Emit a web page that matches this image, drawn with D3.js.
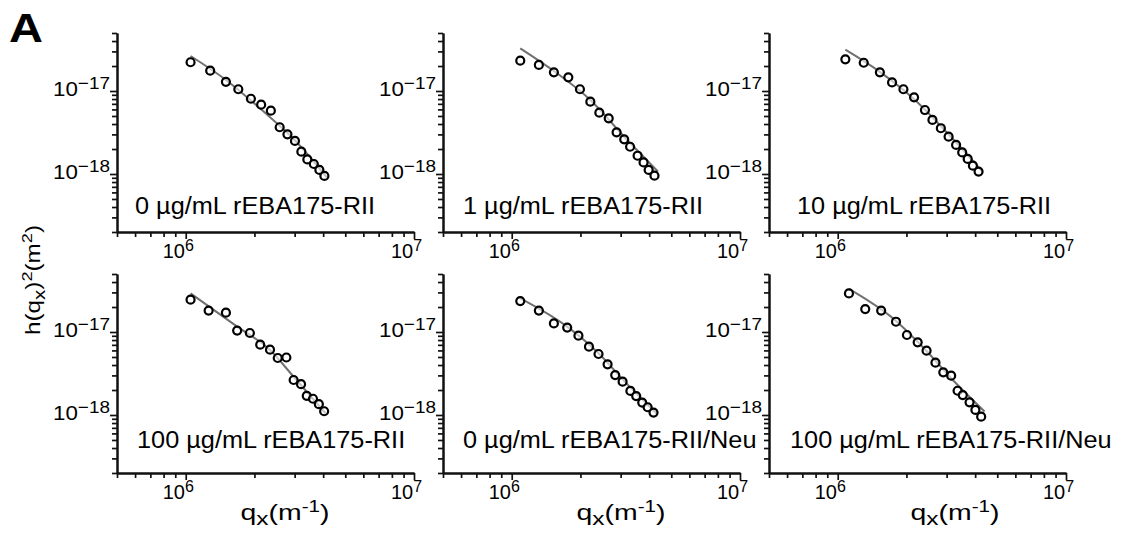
<!DOCTYPE html>
<html><head><meta charset="utf-8">
<script src="https://cdn.jsdelivr.net/npm/d3@7"></script>
<style>
body{margin:0;background:#fff}
svg{display:block}
text{font-family:"Liberation Sans",Arial,Helvetica,sans-serif;fill:#000}
</style>
</head><body>
<svg id="c" width="1128" height="534"></svg>
<script>
// ---- data ----
const panelLabels = ["0 µg/mL rEBA175-RII","1 µg/mL rEBA175-RII","10 µg/mL rEBA175-RII",
                     "100 µg/mL rEBA175-RII","0 µg/mL rEBA175-RII/Neu","100 µg/mL rEBA175-RII/Neu"];

const q1 = [1.05e6,1.28e6,1.50e6,1.70e6,1.93e6,2.14e6,2.36e6,2.58e6,2.79e6,3.01e6,3.21e6,3.41e6,3.64e6,3.85e6,4.05e6];
const h1 = [2.22e-17,1.76e-17,1.29e-17,1.05e-17,8.07e-18,6.84e-18,5.80e-18,3.66e-18,3.01e-18,2.50e-18,1.86e-18,1.50e-18,1.32e-18,1.12e-18,9.47e-19];
const fitQ1 = [1.05e6,1.5e6,2.2e6,3.0e6,4.15e6];
const fitH1 = [2.64e-17,1.36e-17,5.61e-18,2.57e-18,9.08e-19];

const q2 = [1.09e6,1.315e6,1.53e6,1.77e6,1.99e6,2.21e6,2.42e6,2.66e6,2.88e6,3.11e6,3.30e6,3.56e6,3.78e6,3.98e6,4.22e6];
const h2 = [2.32e-17,2.06e-17,1.68e-17,1.46e-17,1.05e-17,7.43e-18,5.48e-18,4.69e-18,3.18e-18,2.62e-18,2.13e-18,1.66e-18,1.38e-18,1.12e-18,9.54e-19];
const fitQ2 = [1.09e6,1.53e6,2.21e6,3.11e6,4.37e6];
const fitH2 = [3.27e-17,1.74e-17,7.79e-18,2.81e-18,1.07e-18];

const q3 = [1.08e6,1.30e6,1.53e6,1.73e6,1.94e6,2.16e6,2.41e6,2.60e6,2.83e6,3.06e6,3.30e6,3.51e6,3.71e6,3.91e6,4.14e6];
const h3 = [2.41e-17,2.19e-17,1.68e-17,1.27e-17,1.05e-17,8.40e-18,5.90e-18,4.48e-18,3.56e-18,2.82e-18,2.24e-18,1.82e-18,1.52e-18,1.26e-18,1.07e-18];
const fitQ3 = [1.08e6,1.53e6,2.18e6,3.05e6,4.3e6];
const fitH3 = [3.15e-17,1.70e-17,7.79e-18,3.03e-18,1.07e-18];

const q4 = [1.05e6,1.26e6,1.50e6,1.68e6,1.91e6,2.12e6,2.34e6,2.53e6,2.76e6,2.97e6,3.20e6,3.39e6,3.61e6,3.83e6,4.04e6];
const h4 = [2.45e-17,1.81e-17,1.71e-17,1.04e-17,9.73e-18,7.03e-18,6.12e-18,4.86e-18,4.93e-18,2.64e-18,2.35e-18,1.70e-18,1.57e-18,1.35e-18,1.11e-18];
const fitQ4 = [1.05e6,1.68e6,2.34e6,2.97e6,4.1e6];
const fitH4 = [2.92e-17,1.16e-17,6.07e-18,2.89e-18,1.05e-18];

const q5 = [1.09e6,1.315e6,1.53e6,1.75e6,1.96e6,2.18e6,2.40e6,2.63e6,2.84e6,3.06e6,3.31e6,3.51e6,3.73e6,3.94e6,4.18e6];
const h5 = [2.36e-17,1.81e-17,1.27e-17,1.13e-17,9.02e-18,6.65e-18,5.43e-18,4.08e-18,3.03e-18,2.52e-18,1.95e-18,1.69e-18,1.41e-18,1.24e-18,1.07e-18];
const fitQ5 = [1.09e6,1.75e6,2.40e6,3.06e6,4.3e6];
const fitH5 = [2.55e-17,1.16e-17,5.54e-18,2.69e-18,1.05e-18];

const q6 = [1.12e6,1.32e6,1.55e6,1.80e6,2.01e6,2.24e6,2.45e6,2.68e6,2.90e6,3.14e6,3.35e6,3.53e6,3.78e6,4.01e6,4.25e6];
const h6 = [2.92e-17,1.89e-17,1.81e-17,1.33e-17,9.20e-18,7.52e-18,5.96e-18,4.27e-18,3.27e-18,2.98e-18,1.96e-18,1.74e-18,1.42e-18,1.15e-18,9.54e-19];
const fitQ6 = [1.12e6,1.80e6,2.45e6,3.14e6,4.4e6];
const fitH6 = [3.30e-17,1.36e-17,5.90e-18,2.77e-18,1.10e-18];

const qDomain = [5e5, 1e7];
const hDomain = [2e-19, 5e-17];
const xMajorTicks = [1e6, 1e7];
const xMajorExp = ["6", "7"];
const yMajorTicks = [1e-18, 1e-17];
const yMajorExp = ["\u221218", "\u221217"];

// ---- layout ----
const colLeft = [117, 443, 769];
const rowTop = [33, 274];
const W = 297, H = 199;
const labelDx = [18, 20, 28, 20, 20, 21];
const labelDyFromBottom = [18, 25];
const xTitleDx = [168, 178, 186];

const series = [
  {q:q1,h:h1,fq:fitQ1,fh:fitH1},{q:q2,h:h2,fq:fitQ2,fh:fitH2},{q:q3,h:h3,fq:fitQ3,fh:fitH3},
  {q:q4,h:h4,fq:fitQ4,fh:fitH4},{q:q5,h:h5,fq:fitQ5,fh:fitH5},{q:q6,h:h6,fq:fitQ6,fh:fitH6}
];

const svg = d3.select("#c");
const isMajor = d => Math.abs(Math.log10(d) - Math.round(Math.log10(d))) < 1e-6;

function fitWidth(gSel, textSel, target) {
  const w = textSel.node().getBBox().width;
  const base = gSel.attr("transform") || "";
  gSel.attr("transform", base + ` scale(${target / w},1)`);
}

series.forEach((s, i) => {
  const r = Math.floor(i / 3), c = i % 3;
  const x0 = colLeft[c], y0 = rowTop[r];
  const x = d3.scaleLog().domain(qDomain).range([0, W]);
  const y = d3.scaleLog().domain(hDomain).range([H, 0]);
  const g = svg.append("g").attr("transform", `translate(${x0},${y0})`);

  const xt = x.ticks();
  const yt = y.ticks();

  const xAxMin = d3.axisBottom(x).tickValues(xt.filter(d => !isMajor(d))).tickSize(5).tickSizeOuter(0).tickFormat("");
  const xAxMaj = d3.axisBottom(x).tickValues(xMajorTicks).tickSize(7).tickSizeOuter(0).tickFormat("");
  const yAxMin = d3.axisLeft(y).tickValues(yt.filter(d => !isMajor(d))).tickSize(5).tickSizeOuter(0).tickFormat("");
  const yAxMaj = d3.axisLeft(y).tickValues(yMajorTicks).tickSize(7).tickSizeOuter(0).tickFormat("");

  [xAxMin, xAxMaj].forEach(ax => {
    const a = g.append("g").attr("transform", `translate(0,${H})`).call(ax);
    a.select(".domain").attr("stroke", "#111").attr("stroke-width", 2);
    a.selectAll(".tick line").attr("stroke", "#111").attr("stroke-width", 1.7);
  });
  [yAxMin, yAxMaj].forEach(ax => {
    const a = g.append("g").call(ax);
    a.select(".domain").attr("stroke", "#111").attr("stroke-width", 2);
    a.selectAll(".tick line").attr("stroke", "#111").attr("stroke-width", 1.7);
  });

  // x tick labels
  xMajorTicks.forEach((t, k) => {
    const tx = g.append("text").attr("x", x(t) - 23).attr("y", H + 26).style("font-size", "20px");
    tx.append("tspan").text("10");
    tx.append("tspan").attr("dy", -7).style("font-size", "16px").text(xMajorExp[k]);
  });
  // y tick labels
  yMajorTicks.forEach((t, k) => {
    const lg = g.append("g").attr("transform", `translate(-7,${y(t) + 5})`);
    const tx = lg.append("text").attr("text-anchor", "end").style("font-size", "20px");
    tx.append("tspan").text("10");
    tx.append("tspan").attr("dy", -7).style("font-size", "17px").text(yMajorExp[k]);
    fitWidth(lg, tx, 57);
  });

  // fit line
  const pts = s.fq.map((q, k) => [q, s.fh[k]]);
  g.append("path").datum(pts)
    .attr("d", d3.line().x(d => x(d[0])).y(d => y(d[1])).curve(d3.curveMonotoneX))
    .attr("fill", "none").attr("stroke", "#707070").attr("stroke-width", 2);

  // data points
  const dat = s.q.map((q, k) => [q, s.h[k]]);
  g.selectAll("circle.pt").data(dat).join("circle").attr("class", "pt")
    .attr("cx", d => x(d[0])).attr("cy", d => y(d[1])).attr("r", 4)
    .attr("fill", "#fff").attr("fill-opacity", 0.6).attr("stroke", "#000").attr("stroke-width", 2.2);

  // panel label
  const lab = g.append("text").attr("x", labelDx[i]).attr("y", H - labelDyFromBottom[r])
    .style("font-size", "23px").text(panelLabels[i]);
  const L = lab.node().getComputedTextLength();
  lab.attr("textLength", L * 1.1).attr("lengthAdjust", "spacingAndGlyphs");

  // x title for bottom row
  if (r === 1) {
    const tg = g.append("g").attr("transform", `translate(${xTitleDx[c]},${H + 47})`);
    const t = tg.append("text").attr("text-anchor", "middle").style("font-size", "22px");
    t.append("tspan").text("q");
    t.append("tspan").attr("dy", 5).style("font-size", "19px").text("x");
    t.append("tspan").attr("dy", -5).text("(m");
    t.append("tspan").attr("dy", -8).style("font-size", "16px").text("-1");
    t.append("tspan").attr("dy", 8).text(")");
    fitWidth(tg, t, 89);
  }
});

// y title
const yg = svg.append("g").attr("transform", "translate(40,280) rotate(-90)");
const ytl = yg.append("text").attr("text-anchor", "middle").style("font-size", "20px");
ytl.append("tspan").text("h(q");
ytl.append("tspan").attr("dy", 5).style("font-size", "17px").text("x");
ytl.append("tspan").attr("dy", -5).text(")");
ytl.append("tspan").attr("dy", -8).style("font-size", "15px").text("2");
ytl.append("tspan").attr("dy", 8).text("(m");
ytl.append("tspan").attr("dy", -8).style("font-size", "15px").text("2");
ytl.append("tspan").attr("dy", 8).text(")");
fitWidth(yg, ytl, 110);

// panel letter
const ag = svg.append("g").attr("transform", "translate(9,42)");
const at = ag.append("text").style("font-size", "41px").style("font-weight", "bold").text("A");
fitWidth(ag, at, 34);
</script>
</body></html>
